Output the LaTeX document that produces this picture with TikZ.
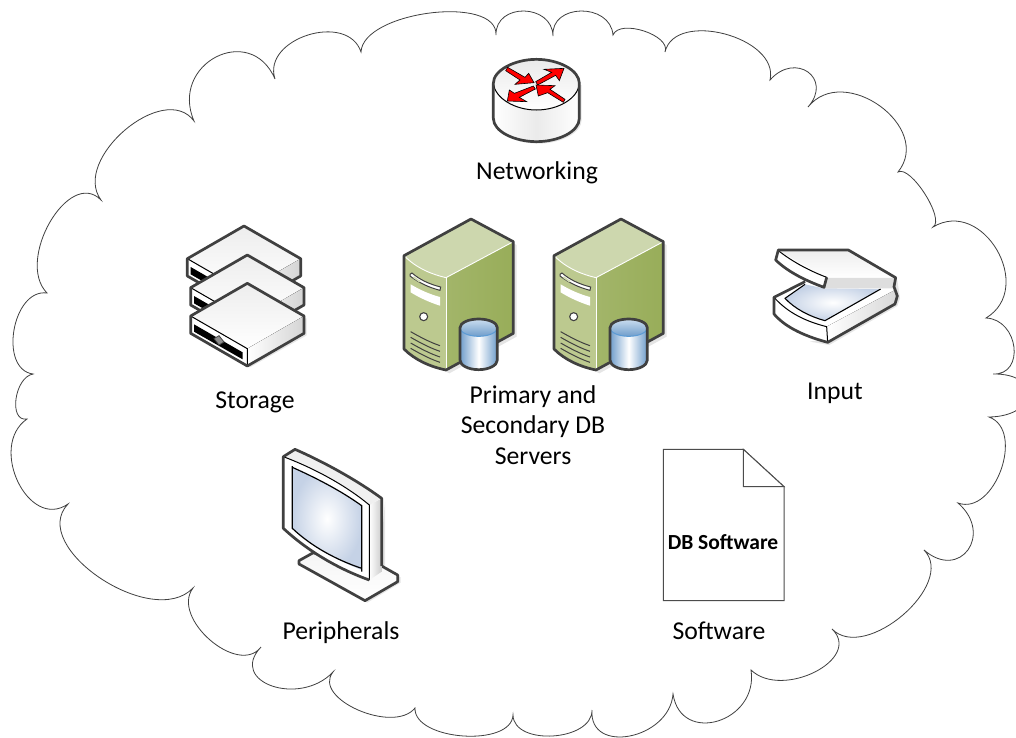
\documentclass[tikz,border=0pt]{standalone}
\usepackage{fontspec}
\usetikzlibrary{calc}
\setmainfont{Carlito}
\definecolor{icoedge}{HTML}{404040}
\definecolor{srvtop}{HTML}{CDD7AE}
\definecolor{srvfront}{HTML}{BCC98F}
\definecolor{srvside}{HTML}{98AD59}
\definecolor{dbblue}{HTML}{6F9DCB}
\definecolor{dbcap}{HTML}{B5CFE8}
\definecolor{dbline}{HTML}{5B9BD5}
\definecolor{glass}{HTML}{C5D2E6}
\tikzset{
  zoomat/.style 2 args={shift={(#1pt,-#2pt)},x=.33333pt,y=-.33333pt},
  icoline/.style={draw=icoedge,line width=2.7pt,line join=round},
  thinblk/.style={draw=black,line width=1pt},
  softshadow/.style={fill=black,opacity=.10,draw=none},
  lbl/.style={font=\fontsize{25.7}{30.5}\selectfont,align=center,text=black,inner sep=0pt},
  cloudline/.style={draw=black!75,line width=.8pt,fill=white,line join=miter}
}
% one cloud lobe: from #1, through #2 (its farthest point), to #3
\newcommand{\lobeto}[3]{.. controls ($0.3333*(#1)+1.3333*(#2)-0.6667*(#3)$) and ($0.3333*(#3)+1.3333*(#2)-0.6667*(#1)$) .. (#3)}
\newcommand{\storeunit}[2]{%
  \begin{scope}[shift={(#1*.33333pt,-#2*.33333pt)}]
    \fill[white] (0,0)--(170,98)--(170,150)--(0,248)--(-170,150)--(-170,98)--cycle;
    \fill[top color=black!7,bottom color=white] (0,0)--(170,98)--(0,196)--(-170,98)--cycle;
    \fill[left color=white,right color=black!17] (0,196)--(170,98)--(170,150)--(0,248)--cycle;
    \fill[black] (-160,123)--(-14,207)--(-14,228)--(-160,145)--cycle;
    \fill[black!45,draw=icoedge,line width=.8pt] (-85,157)--(-70,176)--(-85,185)--(-100,166)--cycle;
    \draw[thinblk] (-170,98)--(0,196)--(0,248);
    \draw[icoline] (0,0)--(170,98)--(170,150)--(0,248)--(-170,150)--(-170,98)--cycle;
  \end{scope}}
\newcommand{\srvicon}[1]{%
  \begin{scope}[zoomat={#1}{205}]
    \fill[softshadow] (52,162)--(253,52)--(380,120)--(380,395)--(178,505)--(52,442)--cycle;
    \fill[srvside,left color=srvside!90,right color=srvside] (168,218)--(370,110)--(370,385)--(168,495)--cycle;
    \fill[srvtop] (42,152) .. controls (80,190) and (125,208) .. (168,218)--(370,110)--(243,42)--cycle;
    \fill[srvfront] (42,152) .. controls (80,190) and (125,208) .. (168,218)--(168,495) .. controls (120,485) and (75,465) .. (42,432)--cycle;
    \draw[white,line width=.9pt] (42,152) .. controls (80,190) and (125,208) .. (168,218)--(370,110);
    \draw[white,line width=.9pt] (168,218)--(168,495);
    \draw[icoedge,line width=1pt,fill=white] (60,208) -- (66,204) .. controls (90,225) and (120,238) .. (152,246) -- (150,256) .. controls (115,247) and (85,232) .. (60,213) -- cycle;
    \fill[srvfront!70!white] (72,214) .. controls (80,220) and (88,226) .. (92,228) -- (88,232) -- (68,218) -- cycle;
    \fill[white] (62,238) .. controls (90,255) and (120,268) .. (150,276)--(150,302) .. controls (118,292) and (88,278) .. (62,262)--cycle;
    \draw[icoedge,line width=1.1pt,fill=white] (101,335) circle[radius=12];
    \foreach \yy in {380,397,414,430}{
      \draw[icoedge,line width=1pt] (62,\yy) .. controls (90,\yy+16) and (120,\yy+32) .. (150,\yy+42);
    }
    \draw[icoline] (42,152)--(243,42)--(370,110)--(370,385)--(168,495) .. controls (120,485) and (75,465) .. (42,432)--cycle;
    % database drum
    \path[left color=dbblue,right color=dbblue,middle color=white] (210,368)--(210,465) arc[start angle=180,end angle=0,x radius=56,y radius=29]--(322,368)--cycle;
    \path[top color=dbcap!70!white,bottom color=dbblue] (266,368) ellipse[x radius=56,y radius=26];
    \draw[dbline,line width=1pt] (210,368) arc[start angle=180,end angle=0,x radius=56,y radius=26];
    \draw[icoline] (210,368)--(210,465) arc[start angle=180,end angle=0,x radius=56,y radius=29]--(322,368) arc[start angle=0,end angle=-180,x radius=56,y radius=26]--cycle;
  \end{scope}}
\begin{document}
\begin{tikzpicture}[x=1pt,y=-1pt]
\useasboundingbox (0,0) rectangle (1016,737);
\fill[white] (0,0) rectangle (1016,737);
\clip (0,0) rectangle (1016,737);
% cloud
\path[cloudline] (361,52)
 \lobeto{361,52}{430,13}{496,35}
 \lobeto{496,35}{524,11}{553,36}
 \lobeto{553,36}{581,11}{613,35}
 \lobeto{613,35}{644,31}{665,52}
 \lobeto{665,52}{725,34}{770,80}
 \lobeto{770,80}{808,72}{808,107}
 \lobeto{808,107}{880,106}{898,172}
 \lobeto{898,172}{925,194}{933,227}
 \lobeto{933,227}{997,250}{986,318}
 \lobeto{986,318}{1014,347}{993,374}
 \lobeto{993,374}{1028,395}{989,417}
 \lobeto{989,417}{1001,470}{958,503}
 \lobeto{958,503}{968,550}{924,550}
 \lobeto{924,550}{903,615}{832,629}
 \lobeto{832,629}{815,672}{751,670}
 \lobeto{751,670}{718,721}{673,694}
 \lobeto{673,694}{630,736}{592,710}
 \lobeto{592,710}{553,736}{513,715}
 \lobeto{513,715}{463,736}{415,708}
 \lobeto{415,708}{358,710}{333,672}
 \lobeto{333,672}{272,686}{261,647}
 \lobeto{261,647}{210,640}{193,588}
 \lobeto{193,588}{100,578}{68,504}
 \lobeto{68,504}{18,482}{27,419}
 \lobeto{27,419}{16,399}{33,374}
 \lobeto{33,374}{14,330}{47,293}
 \lobeto{47,293}{50,222}{101,200}
 \lobeto{101,200}{125,130}{194,121}
 \lobeto{194,121}{216,57}{275,79}
 \lobeto{275,79}{308,35}{361,52}
 -- cycle;
% router
\begin{scope}[zoomat={470}{40}]
  \fill[softshadow] (76,240) .. controls (76,280) and (140,311) .. (205,311) .. controls (270,311) and (335,280) .. (335,240) -- (335,135) -- (76,135) -- cycle;
  \path[left color=white,right color=white,middle color=black!8] (70,130)--(70,235) .. controls (70,275) and (135,305) .. (199,305) .. controls (265,305) and (328,275) .. (328,235)--(328,130)--cycle;
  \path[top color=black!8,bottom color=white] (70,130) .. controls (70,90) and (135,58) .. (199,58) .. controls (265,58) and (328,90) .. (328,130) .. controls (325,175) and (265,210) .. (199,210) .. controls (135,210) and (75,175) .. (70,130)--cycle;
  \draw[thinblk] (70,130) .. controls (75,175) and (135,210) .. (199,210) .. controls (265,210) and (325,175) .. (328,130);
  \draw[icoline] (70,130)--(70,235) .. controls (70,275) and (135,305) .. (199,305) .. controls (265,305) and (328,275) .. (328,235)--(328,130) .. controls (328,90) and (265,58) .. (199,58) .. controls (135,58) and (70,90) .. (70,130)--cycle;
  \begin{scope}[fill=red,draw=black,line width=.6pt,line join=miter]
    \filldraw (113,82)--(165,112)--(176,100)--(192,128)--(135,133)--(150,120)--(107,92)--cycle;
    \filldraw (197,125)--(245,97)--(222,88)--(282,85)--(268,122)--(257,106)--(203,135)--cycle;
    \filldraw (190,138)--(196,147)--(148,172)--(170,185)--(112,183)--(118,150)--(133,160)--cycle;
    \filldraw (285,178)--(280,187)--(233,158)--(205,168)--(198,135)--(255,137)--(240,148)--cycle;
  \end{scope}
\end{scope}
% storage
\begin{scope}[zoomat={170}{210}]
  \fill[softshadow] (402,325)--(410,325)--(410,376)--(240,472)--(232,465)--cycle;
  \storeunit{222}{48}
  \storeunit{232}{135}
  \storeunit{232}{220}
\end{scope}
% servers
\srvicon{390}
\srvicon{540}
% scanner
\begin{scope}[zoomat={760}{235}]
  \fill[softshadow] (412,135)--(420,190)--(412,213)--(208,330)--(150,320)--(203,310)--cycle;
  \fill[white] (42,187) .. controls (75,165) and (105,150) .. (135,135)--(400,150)--(405,205)--(203,322) .. controls (120,300) and (70,270) .. (42,237)--cycle;
  \path[inner color=white,outer color=glass] (75,190)--(135,148)--(190,160)--(362,162)--(195,257) .. controls (150,245) and (105,222) .. (75,190)--cycle;
  \draw[draw=black,line width=1.1pt,line join=round] (135,148)--(75,190) .. controls (105,222) and (150,245) .. (195,257)--(362,162);
  \fill[left color=white,right color=black!15] (200,275)--(405,165)--(405,207)--(203,322)--cycle;
  \draw[thinblk] (42,187) .. controls (85,235) and (140,260) .. (200,275)--(203,322);
  \fill[black!13] (198,128)--(405,128)--(402,160)--(194,160)--cycle;
  \path[top color=black!7,bottom color=white] (55,47)--(265,45)--(405,128)--(200,128)--cycle;
  \fill[white] (55,47) .. controls (100,82) and (150,108) .. (200,127)--(192,157) .. controls (140,138) and (85,112) .. (47,75)--cycle;
  \draw[thinblk] (55,47) .. controls (100,82) and (150,108) .. (200,127)--(192,157);
  \draw[icoline] (200,127)--(192,157) .. controls (140,138) and (85,112) .. (47,75)--(55,45)--(265,45)--(407,128)--(402,155)--(412,183)--(405,207)--(203,322) .. controls (120,300) and (70,270) .. (42,237)--(42,187)--(135,140);
\end{scope}
% monitor
\begin{scope}[zoomat={270}{440}]
  \fill[softshadow] (345,185)--(345,385)--(392,412)--(392,428)--(292,488)--(200,440)--(335,300)--cycle;
  \path[top color=black!4,bottom color=white,icoline] (130,338)--(87,362)--(87,372)--(285,482)--(383,425)--(383,405)--(335,378)--(300,400)--cycle;
  \path[left color=white,right color=black!20] (298,195)--(335,175)--(335,395)--(298,420)--cycle;
  \fill[black!6] (40,50)--(75,28) .. controls (160,65) and (260,120) .. (335,175)--(298,195) .. controls (220,130) and (120,80) .. (40,50)--cycle;
  \fill[white] (40,50) .. controls (120,80) and (220,130) .. (298,195)--(298,420) .. controls (200,385) and (110,330) .. (40,265)--cycle;
  \path[inner color=white,outer color=glass] (67,82) .. controls (130,110) and (210,150) .. (275,197)--(275,390) .. controls (200,360) and (125,320) .. (67,265)--cycle;
  \draw[draw=black,line width=1.2pt] (67,78)--(67,265) .. controls (125,320) and (200,360) .. (275,385);
  \draw[draw=black,line width=1.2pt] (67,82) .. controls (130,110) and (210,150) .. (275,197)--(275,395);
  \draw[thinblk] (40,50) .. controls (120,80) and (220,130) .. (298,195)--(298,420);
  \draw[icoline] (298,420) .. controls (200,385) and (110,330) .. (40,265)--(40,50)--(75,28) .. controls (160,65) and (260,120) .. (335,175)--(335,378);
\end{scope}
% document
\begin{scope}[zoomat={650}{440}]
  \draw[draw=black!70,line width=1pt,fill=white,line join=miter] (40,28)--(280,28)--(402,140)--(402,482)--(40,482)--cycle;
  \draw[draw=black!70,line width=1pt,fill=white,line join=miter] (280,28)--(280,140)--(402,140)--cycle;
\end{scope}
\node[font=\fontsize{21.5}{24}\selectfont\bfseries,inner sep=0pt,anchor=base] (docname) at (723,549) {DB Software};
% labels
\node[lbl,anchor=base] (net) at (537,179) {Networking};
\node[lbl,anchor=base] (stor) at (255,408) {Storage};
\node[lbl] (dbs) at (533,425) {Primary and\\Secondary DB\\Servers};
\node[lbl,anchor=base] (inp) at (835,399) {Input};
\node[lbl,anchor=base] (per) at (341,639) {Peripherals};
\node[lbl,anchor=base] (soft) at (719,639) {Software};
\end{tikzpicture}
\end{document}
